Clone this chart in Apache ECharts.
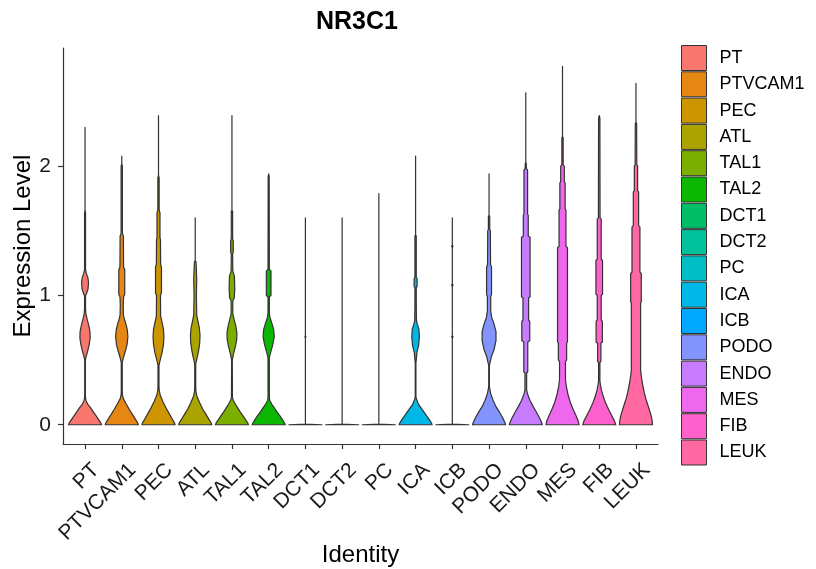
<!DOCTYPE html>
<html>
<head>
<meta charset="utf-8">
<script src="https://cdn.jsdelivr.net/npm/echarts@6/dist/echarts.min.js"></script>
<style>html,body{margin:0;padding:0;background:#fff}#c{width:816px;height:569px}</style>
</head>
<body>
<div id="c"></div>
<script>
const categories = ['PT','PTVCAM1','PEC','ATL','TAL1','TAL2','DCT1','DCT2','PC','ICA','ICB','PODO','ENDO','MES','FIB','LEUK'];
const colors = ['#F8766D','#E68613','#CD9600','#ABA300','#7CAE00','#0CB702','#00BE67','#00C19A','#00BFC4','#00B8E7','#00A9FF','#8494FF','#C77CFF','#ED68ED','#FF61CC','#FF68A1'];
const yTicks = [0, 1, 2];

// violin profiles: [expression level, relative half-width]
const vPT = [[0,1],[0.015,0.95],[0.04,0.82],[0.07,0.66],[0.1,0.5],[0.13,0.34],[0.16,0.16],[0.19,0.05],[0.22,0.02],[0.5,0.02],[0.53,0.07],[0.57,0.16],[0.62,0.25],[0.67,0.31],[0.72,0.3],[0.77,0.22],[0.82,0.12],[0.86,0.05],[0.9,0.03],[1.0,0.03],[1.01,0.08],[1.05,0.18],[1.1,0.21],[1.14,0.17],[1.17,0.08],[1.2,0.03],[1.64,0.03],[1.66,0],[2.30,0]];
const vPTVCAM1 = [[0,1],[0.015,0.96],[0.04,0.84],[0.08,0.64],[0.12,0.45],[0.16,0.27],[0.2,0.1],[0.23,0.04],[0.26,0.03],[0.48,0.03],[0.52,0.1],[0.57,0.22],[0.62,0.32],[0.68,0.37],[0.73,0.34],[0.78,0.25],[0.82,0.15],[0.85,0.1],[0.93,0.09],[0.99,0.11],[1.01,0.18],[1.2,0.18],[1.22,0.11],[1.46,0.1],[1.48,0.04],[2.0,0.04],[2.02,0],[2.077,0]];
const vPEC = [[0,1],[0.015,0.96],[0.04,0.85],[0.08,0.67],[0.13,0.46],[0.18,0.26],[0.23,0.1],[0.27,0.04],[0.3,0.03],[0.46,0.03],[0.5,0.1],[0.56,0.22],[0.62,0.3],[0.68,0.33],[0.74,0.3],[0.8,0.2],[0.84,0.13],[1.0,0.12],[1.02,0.18],[1.22,0.18],[1.24,0.13],[1.43,0.12],[1.45,0.09],[1.64,0.09],[1.66,0.04],[1.91,0.04],[1.93,0],[2.392,0]];
const vATL = [[0,1],[0.015,0.96],[0.04,0.84],[0.08,0.65],[0.12,0.46],[0.17,0.27],[0.22,0.1],[0.26,0.04],[0.3,0.03],[0.47,0.03],[0.51,0.1],[0.57,0.2],[0.63,0.27],[0.69,0.29],[0.75,0.25],[0.81,0.15],[0.85,0.09],[1.0,0.07],[1.12,0.09],[1.2,0.07],[1.26,0.05],[1.27,0],[1.6,0]];
const vTAL1 = [[0,1],[0.015,0.95],[0.04,0.82],[0.07,0.66],[0.1,0.5],[0.13,0.35],[0.16,0.2],[0.19,0.08],[0.21,0.03],[0.5,0.02],[0.54,0.08],[0.6,0.2],[0.66,0.29],[0.71,0.3],[0.77,0.22],[0.82,0.12],[0.86,0.05],[0.96,0.05],[0.98,0.14],[1.05,0.17],[1.15,0.15],[1.19,0.05],[1.32,0.04],[1.34,0.08],[1.42,0.08],[1.44,0.04],[1.65,0.04],[1.66,0],[2.392,0]];
const vTAL2 = [[0,1],[0.015,0.95],[0.04,0.83],[0.07,0.67],[0.1,0.5],[0.13,0.34],[0.16,0.18],[0.19,0.06],[0.21,0.04],[0.52,0.04],[0.56,0.12],[0.62,0.25],[0.68,0.34],[0.74,0.3],[0.79,0.18],[0.83,0.08],[0.86,0.04],[0.99,0.04],[1.0,0.14],[1.19,0.14],[1.2,0.04],[1.92,0.03],[1.94,0]];
const vDCT1 = [[0,1],[0.004,0],[0.67,0],[0.68,0.03],[0.69,0],[1.6,0]];
const vDCT2 = [[0,1],[0.004,0],[1.6,0]];
const vPC = [[0,1],[0.004,0],[1.788,0]];
const vICA = [[0,1],[0.015,0.95],[0.04,0.83],[0.07,0.66],[0.1,0.5],[0.13,0.33],[0.16,0.17],[0.2,0.05],[0.22,0.02],[0.48,0.02],[0.5,0.04],[0.56,0.08],[0.61,0.18],[0.68,0.23],[0.74,0.2],[0.78,0.1],[0.81,0.05],[0.94,0.04],[1.06,0.04],[1.07,0.09],[1.13,0.09],[1.14,0.04],[1.46,0.04],[1.47,0],[2.077,0]];
const vICB = [[0,1],[0.004,0],[0.67,0],[0.68,0.04],[0.69,0],[1.07,0],[1.08,0.04],[1.09,0],[1.37,0],[1.38,0.04],[1.39,0],[1.6,0]];
const vPODO = [[0,1],[0.015,0.96],[0.05,0.84],[0.1,0.62],[0.14,0.42],[0.19,0.24],[0.24,0.1],[0.28,0.04],[0.3,0.02],[0.46,0.02],[0.48,0.06],[0.53,0.15],[0.58,0.3],[0.65,0.42],[0.72,0.42],[0.78,0.3],[0.83,0.16],[0.88,0.1],[0.99,0.1],[1.01,0.15],[1.22,0.15],[1.24,0.09],[1.5,0.08],[1.51,0.04],[1.61,0.04],[1.62,0],[1.94,0]];
const vENDO = [[0,1],[0.015,0.96],[0.05,0.84],[0.1,0.63],[0.14,0.45],[0.19,0.25],[0.24,0.1],[0.27,0.05],[0.4,0.05],[0.41,0.12],[0.64,0.12],[0.65,0.24],[0.8,0.24],[0.81,0.17],[0.98,0.17],[0.99,0.26],[1.45,0.26],[1.46,0.15],[1.62,0.15],[1.63,0.11],[1.97,0.11],[1.98,0.04],[2.02,0.03],[2.03,0],[2.567,0]];
const vMES = [[0,1],[0.03,0.95],[0.07,0.82],[0.12,0.64],[0.17,0.48],[0.23,0.34],[0.29,0.24],[0.35,0.18],[0.49,0.18],[0.5,0.25],[0.63,0.25],[0.64,0.3],[1.37,0.3],[1.38,0.21],[1.66,0.21],[1.67,0.16],[1.87,0.16],[1.88,0.11],[2.0,0.11],[2.01,0.04],[2.22,0.04],[2.23,0],[2.773,0]];
const vFIB = [[0,1],[0.03,0.92],[0.07,0.76],[0.12,0.56],[0.17,0.38],[0.22,0.24],[0.27,0.13],[0.31,0.07],[0.34,0.04],[0.48,0.04],[0.49,0.1],[0.63,0.1],[0.64,0.19],[0.8,0.19],[0.81,0.12],[1.0,0.12],[1.01,0.2],[1.27,0.2],[1.28,0.12],[1.59,0.12],[1.6,0.05],[2.37,0.04],[2.392,0]];
const vLEUK = [[0,1],[0.04,0.97],[0.08,0.9],[0.12,0.8],[0.16,0.7],[0.2,0.6],[0.25,0.5],[0.3,0.42],[0.36,0.34],[0.42,0.28],[0.94,0.28],[0.95,0.32],[1.17,0.32],[1.18,0.24],[1.53,0.24],[1.54,0.16],[1.8,0.16],[1.81,0.1],[2.0,0.1],[2.01,0.05],[2.33,0.04],[2.34,0],[2.64,0]];

const profiles = [vPT,vPTVCAM1,vPEC,vATL,vTAL1,vTAL2,vDCT1,vDCT2,vPC,vICA,vICB,vPODO,vENDO,vMES,vFIB,vLEUK];
const HALF = 0.45;

const chart = echarts.init(document.getElementById('c'), null, {renderer: 'canvas'});
const FONT = '"Liberation Sans", Arial, sans-serif';

const series = categories.map((name, i) => ({
  name: name,
  type: 'custom',
  clip: false,
  itemStyle: {color: colors[i], borderColor: '#333', borderWidth: 1},
  encode: {x: 0, y: 1},
  data: [[i, profiles[i][profiles[i].length - 1][0]]],
  renderItem: function (params, api) {
    const k = api.value(0);
    const prof = profiles[k];
    const right = prof.map(p => api.coord([k + p[1] * HALF, p[0]]));
    const left = prof.slice().reverse().map(p => api.coord([k - p[1] * HALF, p[0]]));
    return {
      type: 'polygon',
      shape: {points: right.concat(left)},
      style: {fill: colors[k], stroke: '#333', lineWidth: 1.2, lineJoin: 'round'}
    };
  }
}));

chart.setOption({
  animation: false,
  backgroundColor: '#fff',
  textStyle: {fontFamily: FONT},
  title: {
    text: 'NR3C1', left: 316, top: 10, padding: 0,
    textStyle: {fontFamily: FONT, fontSize: 25, fontWeight: 'bold', color: '#000'}
  },
  legend: {
    orient: 'vertical', left: 681, top: 45, padding: 0,
    itemWidth: 25, itemHeight: 25, itemGap: 0.3, icon: 'rect',
    itemStyle: {borderColor: '#333', borderWidth: 1},
    textStyle: {fontFamily: FONT, fontSize: 18, color: '#000', padding: [0, 0, 0, 8]},
    data: categories
  },
  grid: {left: 63, right: 158, top: 48, bottom: 125, outerBoundsMode: 'none'},
  xAxis: {
    type: 'value', min: -0.6, max: 15.6,
    name: 'Identity', nameLocation: 'middle', nameGap: 99, nameMoveOverlap: false,
    nameTextStyle: {fontFamily: FONT, fontSize: 24, color: '#000'},
    splitLine: {show: false},
    axisLine: {show: true, onZero: false, lineStyle: {color: '#333', width: 1.2}},
    axisTick: {show: true, length: 5, lineStyle: {color: '#333', width: 1.2}, customValues: categories.map((c, i) => i)},
    axisLabel: {
      customValues: categories.map((c, i) => i),
      formatter: v => categories[Math.round(v)],
      rotate: 45, align: 'right', verticalAlign: 'top', margin: 2,
      padding: [12, 7, 0, 0],
      fontFamily: FONT, fontSize: 21, color: '#1a1a1a'
    }
  },
  yAxis: {
    type: 'value', min: -0.149, max: 2.914,
    name: 'Expression Level', nameLocation: 'middle', nameGap: 28, nameMoveOverlap: false,
    nameTextStyle: {fontFamily: FONT, fontSize: 24, color: '#000'},
    splitLine: {show: false},
    axisLine: {show: true, onZero: false, lineStyle: {color: '#333', width: 1.2}},
    axisTick: {show: true, length: 5, lineStyle: {color: '#333', width: 1.2}, customValues: yTicks},
    axisLabel: {customValues: yTicks, margin: 12, fontFamily: FONT, fontSize: 21, color: '#1a1a1a'}
  },
  series: series
});
</script>
</body>
</html>
